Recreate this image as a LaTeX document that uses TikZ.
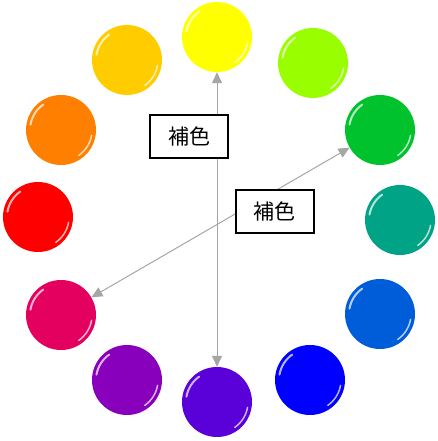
\documentclass[tikz,border=0pt]{standalone}
\usepackage{fontspec}
\newfontfamily\cjk{Noto Sans CJK JP}
\usetikzlibrary{arrows.meta,shapes}

\definecolor{cYellow}{HTML}{FFFF00}
\definecolor{cYGreen}{HTML}{99FF00}
\definecolor{cGreen}{HTML}{00C22D}
\definecolor{cTeal}{HTML}{00A386}
\definecolor{cLBlue}{HTML}{005DDA}
\definecolor{cBlue}{HTML}{0000FF}
\definecolor{cViolet}{HTML}{5A00D8}
\definecolor{cPurple}{HTML}{8800BB}
\definecolor{cMagenta}{HTML}{E4005F}
\definecolor{cRed}{HTML}{FF0000}
\definecolor{cOrange}{HTML}{FF8000}
\definecolor{cYOrange}{HTML}{FFCC00}
\definecolor{cArrow}{HTML}{A6A6A6}

\begin{document}
\begin{tikzpicture}[x=1pt,y=1pt]
      \tikzstyle{ball}=[circle,inner sep=0pt,minimum size=70pt,
        path picture={
          \draw[white,line width=2pt,opacity=0.7,line cap=round]
            (path picture bounding box.center) ++(170:31) arc[start angle=170,end angle=125,radius=31];
          \draw[white,line width=1.5pt,opacity=0.7,line cap=round]
            (path picture bounding box.center) ++(-10:31) arc[start angle=-10,end angle=-55,radius=31];
        }]
      \tikzstyle{lab}=[rectangle,draw=black,line width=2pt,fill=white,
        minimum width=78pt,minimum height=43pt,font=\cjk\fontsize{21}{24}\selectfont]
      \tikzstyle{comp}=[{Triangle[length=11pt,width=10pt]}-{Triangle[length=11pt,width=10pt]},
        color=cArrow,line width=1pt]

      \useasboundingbox[fill=white] (0,0) rectangle (438,441);

      % colour wheel
      \node[ball,fill=cYellow](yellow) at (217,404) {};
      \node[ball,fill=cYGreen](ygreen) at (313,378) {};
      \node[ball,fill=cGreen](green) at (380,311) {};
      \node[ball,fill=cTeal](teal) at (400,221) {};
      \node[ball,fill=cLBlue](lblue) at (380,127) {};
      \node[ball,fill=cBlue](blue) at (310,61) {};
      \node[ball,fill=cViolet](violet) at (217,39) {};
      \node[ball,fill=cPurple](purple) at (127,61) {};
      \node[ball,fill=cMagenta](magenta) at (61,126) {};
      \node[ball,fill=cRed](red) at (38,224) {};
      \node[ball,fill=cOrange](orange) at (61,311) {};
      \node[ball,fill=cYOrange](yorange) at (127,381) {};

      % complementary pairs
      \draw[comp] (yellow) -- (violet);
      \draw[comp] (green) -- (magenta);

      \node[lab](lab1) at (189,304.5) {補色};
      \node[lab](lab2) at (274.5,229.5) {補色};
\end{tikzpicture}
\end{document}
